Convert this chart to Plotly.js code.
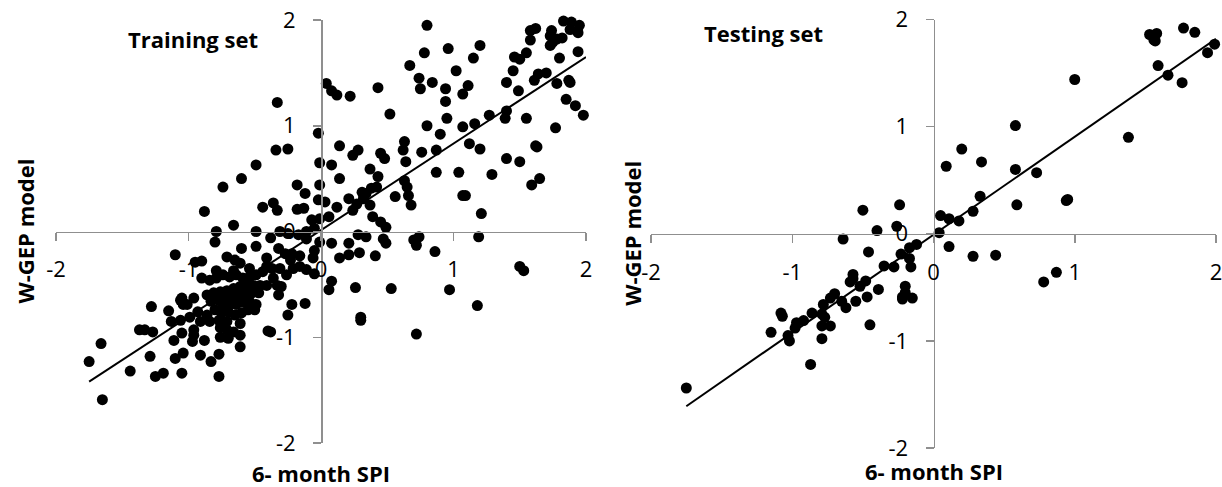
<!DOCTYPE html>
<html>
<head>
<meta charset="utf-8">
<script src="https://cdn.plot.ly/plotly-3.0.1.min.js"></script>
<style>html,body{margin:0;padding:0;background:#fff;}#chart{width:1222px;height:487px;}</style>
</head>
<body>
<div id="chart"></div>
<script>
// ---- Data ----
const tickVals = [-2, -1, 0, 1, 2];
const tickText = ["-2", "-1", "0", "1", "2"];

const trainX = [1.83,1.89,1.95,1.88,1.94,1.74,1.73,1.78,1.82,1.75,1.73,1.58,1.62,1.58,1.46,1.50,1.55,1.45,1.64,1.70,1.61,1.40,1.49,1.78,1.87,1.88,1.80,1.94,1.85,1.92,1.98,1.77,1.62,1.63,1.40,1.39,1.55,1.27,1.16,1.07,1.12,1.20,1.40,1.50,1.29,1.04,0.87,1.07,1.09,1.21,1.59,1.65,1.20,1.15,0.96,1.02,1.11,1.07,0.94,0.94,0.95,0.90,0.87,0.80,0.76,0.84,0.75,0.74,0.78,0.80,0.67,0.52,0.43,0.22,0.04,0.08,0.12,0.63,0.62,0.64,0.45,0.48,0.28,0.24,0.14,0.08,0.14,-0.02,-0.01,-0.01,-0.02,0.03,0.12,0.06,-0.07,-0.01,-0.12,-0.13,0.37,0.43,0.21,0.31,0.34,0.38,0.42,0.32,0.27,0.24,0.37,0.39,0.45,0.49,0.56,0.63,0.65,0.66,0.68,0.28,0.34,0.47,0.70,0.74,1.19,-0.05,-0.11,-0.01,0.08,0.21,
-0.33,-0.34,-0.25,-0.49,-0.60,-0.74,-0.88,-0.66,-0.79,-0.80,-0.49,-0.49,-0.60,-0.44,-0.36,-0.33,-0.18,-0.18,-0.31,-0.25,-0.38,-0.17,-0.11,
0.14,-0.05,-0.06,-0.05,0.08,0.06,-1.10,-0.90,-0.71,-0.65,-0.41,-0.32,-0.27,-0.22,-0.16,-0.16,-0.11,-0.37,-0.31,-0.26,-0.21,-0.33,-0.30,-0.32,-0.22,-0.12,-0.25,-0.40,-0.38,-0.95,-0.90,-0.84,-1.28,-1.15,-1.05,-1.04,-0.96,-1.37,-1.27,-1.13,-1.06,-1.11,-1.05,-0.96,-1.04,-1.29,-1.10,-0.96,-0.97,-0.88,-0.91,-0.83,-0.77,-0.76,-0.70,-0.61,-0.61,-1.19,-1.25,-1.05,-0.77,
-0.79,-0.74,-0.69,-0.64,-0.59,-0.54,-0.49,-0.44,-0.41,-0.46,-0.51,-0.56,-0.61,-0.66,-0.71,-0.76,-0.81,-0.86,-0.83,-0.77,-0.72,-0.67,-0.62,-0.57,-0.52,-0.47,-0.74,-0.69,-0.64,-0.59,-0.54,-0.49,-0.80,-0.75,-0.70,-0.65,-0.60,-0.55,-0.86,-0.84,-0.77,-0.71,-0.93,-0.99,-0.91,-0.71,-0.66,-0.76,-0.61,-0.41,-0.36,-0.54,-0.66,-0.79,-0.61,-0.23,-0.50,-1.06,-1.01,
-1.75,-1.66,-1.65,-1.44,-1.33,
0.49,0.72,0.21,0.29,0.41,0.86,0.26,0.53,0.97,1.18,0.30,0.30,0.72,1.50,1.53];

const trainY = [1.99,1.98,1.95,1.91,1.88,1.90,1.85,1.82,1.83,1.79,1.76,1.90,1.92,1.81,1.65,1.63,1.69,1.52,1.49,1.50,1.43,1.41,1.33,1.40,1.43,1.41,1.64,1.70,1.25,1.19,1.10,0.98,0.81,0.80,1.14,1.07,1.07,1.10,1.02,0.99,0.83,0.78,0.69,0.66,0.54,0.56,0.56,0.34,0.34,0.17,0.44,0.50,1.76,1.64,1.73,1.52,1.38,1.30,1.35,1.23,1.07,0.92,0.77,1.00,0.75,1.41,1.35,1.45,1.69,1.95,1.57,1.11,1.36,1.28,1.40,1.33,1.29,0.85,0.77,0.66,0.74,0.69,0.77,0.72,0.81,0.63,0.50,0.93,0.65,0.44,0.30,0.28,0.23,0.14,0.11,0.12,0.36,0.22,0.59,0.52,0.31,0.37,0.36,0.41,0.42,0.31,0.26,0.20,0.25,0.14,0.09,0.04,0.33,0.48,0.42,0.34,0.25,-0.03,-0.05,-0.07,-0.08,-0.05,-0.05,0.03,-0.07,-0.10,-0.11,-0.11,
1.22,0.77,0.78,0.63,0.50,0.42,0.19,0.06,0.00,-0.10,0.00,-0.14,-0.16,0.23,0.27,0.20,0.44,0.21,0.00,-0.02,-0.06,-0.03,0.00,
-0.25,-0.18,-0.25,-0.40,-0.47,-0.55,-0.22,-0.28,-0.24,-0.27,-0.25,-0.16,-0.21,-0.21,-0.23,-0.33,-0.36,-0.35,-0.35,-0.41,-0.35,-0.51,-0.52,-0.60,-0.69,-0.68,-0.79,-0.94,-0.95,-0.29,-0.44,-0.46,-0.71,-0.75,-0.63,-0.69,-0.63,-0.93,-0.95,-0.85,-0.84,-1.03,-0.96,-0.93,-1.15,-1.18,-1.20,-0.98,-1.04,-1.03,-1.17,-1.23,-1.16,-1.00,-1.01,-0.98,-1.09,-1.34,-1.37,-1.34,-1.37,
-0.44,-0.41,-0.43,-0.41,-0.44,-0.43,-0.41,-0.38,-0.33,-0.51,-0.51,-0.51,-0.52,-0.54,-0.56,-0.57,-0.58,-0.60,-0.66,-0.65,-0.63,-0.62,-0.60,-0.58,-0.58,-0.58,-0.71,-0.69,-0.69,-0.67,-0.66,-0.69,-0.74,-0.77,-0.76,-0.79,-0.77,-0.74,-0.79,-0.85,-0.84,-0.85,-0.76,-0.81,-0.85,-0.93,-0.95,-0.91,-0.87,-0.51,-0.44,-0.35,-0.37,-0.37,-0.30,-0.27,-0.74,-0.65,-0.69,
-1.23,-1.06,-1.59,-1.32,-0.93,
-0.11,-0.13,-0.22,-0.20,-0.23,-0.19,-0.53,-0.54,-0.55,-0.70,-0.81,-0.84,-0.97,-0.33,-0.37];

const trainFitX = [-1.75, 2.0];
const trainFitY = [-1.42, 1.65];

const testX = [1.53,1.58,1.56,1.57,1.77,1.85,1.94,1.99,1.59,1.66,1.76,1.00,1.38,0.58,0.20,0.09,0.34,0.58,0.73,0.33,0.28,0.59,0.94,0.95,0.05,0.11,0.18,0.04,0.11,0.28,0.44,0.78,0.87,-0.50,-0.24,-0.40,-0.26,-0.64,-0.46,-0.12,-0.17,-0.23,-0.17,-0.16,-0.35,-0.28,-0.57,-0.57,-0.59,-0.52,-0.48,-0.39,-0.47,-0.55,-0.20,-0.20,-0.22,-0.22,-0.15,-0.65,-0.62,-0.70,-0.73,-0.78,-0.79,-0.77,-0.73,-0.79,-0.86,-0.92,-0.97,-0.98,-1.08,-1.07,-1.15,-1.03,-1.02,-0.79,-0.45,-1.75,-0.87];
const testY = [1.86,1.87,1.81,1.80,1.92,1.88,1.69,1.77,1.57,1.48,1.41,1.44,0.90,1.01,0.79,0.63,0.67,0.60,0.57,0.35,0.21,0.27,0.31,0.32,0.17,0.14,0.12,0.01,-0.12,-0.21,-0.20,-0.45,-0.36,0.22,0.27,0.03,0.07,-0.05,-0.17,-0.10,-0.13,-0.19,-0.23,-0.31,-0.30,-0.31,-0.38,-0.42,-0.45,-0.49,-0.44,-0.52,-0.59,-0.63,-0.49,-0.55,-0.59,-0.61,-0.60,-0.63,-0.69,-0.56,-0.60,-0.66,-0.75,-0.78,-0.86,-0.86,-0.74,-0.81,-0.83,-0.88,-0.74,-0.77,-0.92,-0.95,-1.00,-0.98,-0.85,-1.44,-1.22];

const testFitX = [-1.75, 2.0];
const testFitY = [-1.61, 1.82];

// ---- Figure ----
const FONT = "Open Sans, Noto Sans, sans-serif";
const AX_GRAY = "#8f8f8f";

const marker = {color: "#000000", size: 11, line: {width: 0}};
const traces = [
  {x: trainX, y: trainY, type: "scatter", mode: "markers", marker: marker, xaxis: "x", yaxis: "y", name: "Training", cliponaxis: false},
  {x: trainFitX, y: trainFitY, type: "scatter", mode: "lines", line: {color: "#000", width: 2}, xaxis: "x", yaxis: "y", name: "Training fit"},
  {x: testX, y: testY, type: "scatter", mode: "markers", marker: marker, xaxis: "x2", yaxis: "y2", name: "Testing", cliponaxis: false},
  {x: testFitX, y: testFitY, type: "scatter", mode: "lines", line: {color: "#000", width: 2}, xaxis: "x2", yaxis: "y2", name: "Testing fit"}
];

function axisBase() {
  return {
    range: [-2, 2], anchor: "free",
    tickvals: tickVals, ticktext: tickText, ticks: "outside", ticklen: 8, tickwidth: 1.5, tickcolor: AX_GRAY,
    showline: true, linecolor: AX_GRAY, linewidth: 1.5, showgrid: false, zeroline: false,
    tickfont: {family: FONT, size: 22, color: "#000"}, ticklabeloverflow: "allow", fixedrange: true
  };
}
function xAxis(domain, pos) {
  return Object.assign(axisBase(), {domain: domain, position: pos, ticklabelstandoff: 10});
}
function yAxis(domain, pos) {
  return Object.assign(axisBase(), {domain: domain, position: pos, ticklabelstandoff: 13});
}

const xd1 = [56/1222, 586/1222], yd1 = [44/487, 467/487];
const xd2 = [651/1222, 1216/1222], yd2 = [39/487, 467.5/487];
const mid = d => (d[0] + d[1]) / 2;

const titleFont = {family: FONT, size: 22, color: "#000", weight: "bold"};
const layout = {
  width: 1222, height: 487,
  margin: {l: 0, r: 0, t: 0, b: 0},
  paper_bgcolor: "#fff", plot_bgcolor: "rgba(0,0,0,0)",
  showlegend: false,
  xaxis: xAxis(xd1, mid(yd1)),
  yaxis: yAxis(yd1, mid(xd1)),
  xaxis2: xAxis(xd2, mid(yd2)),
  yaxis2: yAxis(yd2, mid(xd2)),
  annotations: [
    {text: "<b>Training set</b>", xref: "paper", yref: "paper", x: 193/1222, y: 1 - 39/487, showarrow: false, font: titleFont, xanchor: "center", yanchor: "middle"},
    {text: "<b>Testing set</b>", xref: "paper", yref: "paper", x: 763/1222, y: 1 - 33/487, showarrow: false, font: titleFont, xanchor: "center", yanchor: "middle"},
    {text: "<b>6- month SPI</b>", xref: "paper", yref: "paper", x: mid(xd1), y: 1 - 473/487, showarrow: false, font: titleFont, xanchor: "center", yanchor: "middle"},
    {text: "<b>6- month SPI</b>", xref: "paper", yref: "paper", x: mid(xd2), y: 0, showarrow: false, font: titleFont, xanchor: "center", yanchor: "bottom", borderpad: 0},
    {text: "<b>W-GEP model</b>", xref: "paper", yref: "paper", x: 24/1222, y: mid(yd1), showarrow: false, font: titleFont, textangle: -90, xanchor: "center", yanchor: "middle"},
    {text: "<b>W-GEP model</b>", xref: "paper", yref: "paper", x: 632/1222, y: mid(yd2), showarrow: false, font: titleFont, textangle: -90, xanchor: "center", yanchor: "middle"}
  ]
};

Plotly.newPlot("chart", traces, layout, {staticPlot: true, displayModeBar: false});
</script>
</body>
</html>
